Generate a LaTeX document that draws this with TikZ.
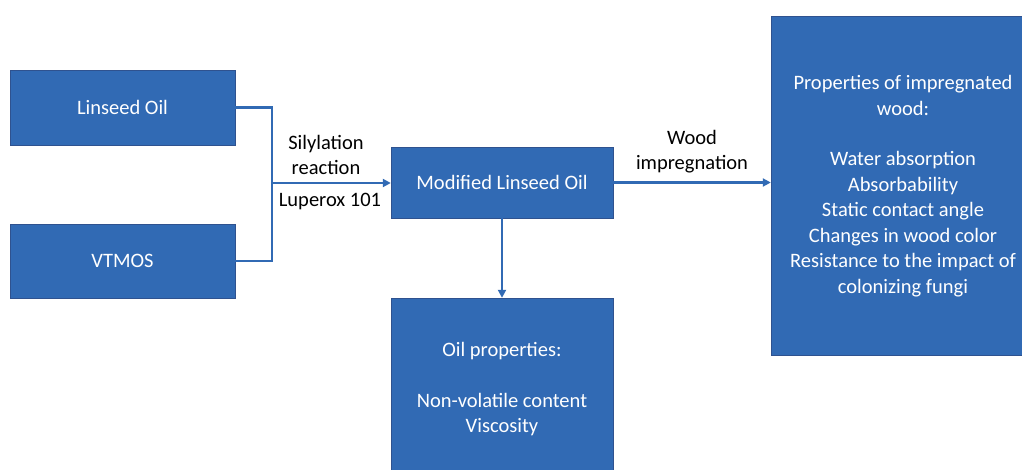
\documentclass[tikz,border=0pt]{standalone}
\usepackage{fontspec}
\setmainfont{Carlito}
\usetikzlibrary{arrows.meta}
\definecolor{boxblue}{RGB}{49,106,180}
\definecolor{edgeblue}{RGB}{47,82,143}
\begin{document}
\begin{tikzpicture}[x=1pt,y=-1pt,
  box/.style={draw=edgeblue,fill=boxblue,text=white,align=center,inner sep=0pt,font=\fontsize{20.5}{25.5}\selectfont},
  lbl/.style={align=center,font=\fontsize{20.5}{25}\selectfont},
  link/.style={draw=boxblue,line width=2.2pt},
  arr/.style={link,-{Triangle[length=8pt,width=8pt]}}]
\clip (0,0) rectangle (1022,470);
\fill[white] (0,0) rectangle (1022,470);
\node[box,minimum width=225,minimum height=75] (lin) at (122.5,107.5) {Linseed Oil};
\node[box,minimum width=225,minimum height=74] (vtm) at (122.5,261) {VTMOS};
\node[box,minimum width=222,minimum height=71] (mod) at (502,182.5) {Modified Linseed Oil};
\node[box,minimum width=222,minimum height=183] (oil) at (502,389.5) {Oil properties:\\[25pt] Non-volatile content\\ Viscosity};
\node[box,minimum width=264,minimum height=339] (wood) at (903,186) {Properties of impregnated\\ wood:\\[25pt] Water absorption\\ Absorbability\\ Static contact angle\\ Changes in wood color\\ Resistance to the impact of\\ colonizing fungi};
\coordinate (J) at (272,183);
\draw[link] (lin.east) -- (J |- lin.east) -- (J |- vtm.east) -- (vtm.east);
\draw[arr] (J) -- (J -| mod.west);
\draw[arr] (mod.east) -- (mod.east -| wood.west);
\draw[arr] (mod.south) -- (oil.north);
\node[lbl] (syl) at (326,155) {Silylation\\ reaction};
\node[lbl] (lup) at (330,202) {Luperox 101};
\node[lbl] (imp) at (692,152) {Wood\\ impregnation};
\end{tikzpicture}
\end{document}
